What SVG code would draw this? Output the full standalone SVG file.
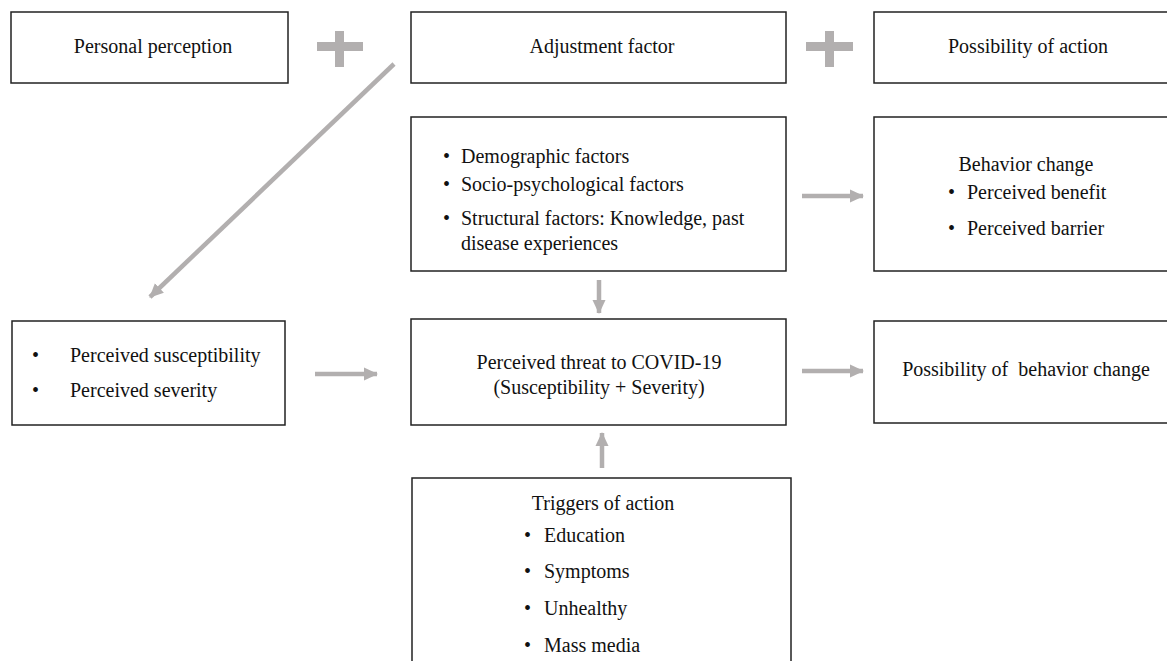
<svg xmlns="http://www.w3.org/2000/svg" width="1167" height="661" viewBox="0 0 1167 661">
<style>
.box{fill:#fff;stroke:#222;stroke-width:1.5}
text{font-family:"Liberation Serif","Times New Roman",serif;font-size:20px;fill:#111}
.c{text-anchor:middle}
.pre{white-space:pre}
.conn{stroke:#b2afaf;stroke-width:4.5;fill:none}
.plus{fill:#b2afaf}
</style>
<defs>
<marker id="ah" markerUnits="userSpaceOnUse" markerWidth="16" markerHeight="16" viewBox="0 0 16 16" refX="13" refY="8" orient="auto">
<polygon points="0,1.5 14,8 0,14.5" fill="#b2afaf"/>
</marker>
</defs>
<rect width="1167" height="661" fill="#fff"/>
<g id="personal-perception"><rect class="box" x="11" y="12" width="277" height="71"/><text class="c" x="153" y="53">Personal perception</text></g>
<g id="adjustment-factor"><rect class="box" x="411" y="12" width="375" height="71"/><text class="c" x="602" y="53">Adjustment factor</text></g>
<g id="possibility-of-action"><rect class="box" x="874" y="12" width="320" height="71"/><text class="c" x="1028" y="53">Possibility of action</text></g>
<g id="plus1"><rect class="plus" x="317" y="42" width="46" height="9"/><rect class="plus" x="335" y="31" width="9" height="36"/></g>
<g id="plus2"><rect class="plus" x="806" y="42" width="47" height="9"/><rect class="plus" x="825" y="31" width="9" height="36"/></g>
<g id="modifying-factors"><rect class="box" x="411" y="117" width="375" height="154"/>
<text x="443" y="163">•</text><text x="461" y="163">Demographic factors</text>
<text x="443" y="191">•</text><text x="461" y="191">Socio-psychological factors</text>
<text x="443" y="225">•</text><text x="461" y="225">Structural factors: Knowledge, past</text>
<text x="461" y="250">disease experiences</text></g>
<g id="behavior-change"><rect class="box" x="874" y="117" width="320" height="154"/>
<text class="c" x="1026" y="171">Behavior change</text>
<text x="948" y="199">•</text><text x="967" y="199">Perceived benefit</text>
<text x="948" y="235">•</text><text x="967" y="235">Perceived barrier</text></g>
<g id="perception-list"><rect class="box" x="12" y="321" width="273" height="104"/>
<text x="32" y="362">•</text><text x="70" y="362">Perceived susceptibility</text>
<text x="32" y="397">•</text><text x="70" y="397">Perceived severity</text></g>
<g id="perceived-threat"><rect class="box" x="411" y="319" width="375" height="106"/>
<text class="c" x="599" y="369">Perceived threat to COVID-19</text>
<text class="c" x="599" y="394">(Susceptibility + Severity)</text></g>
<g id="possibility-behavior-change"><rect class="box" x="874" y="321" width="320" height="102"/>
<text class="c pre" x="1026" y="376">Possibility of  behavior change</text></g>
<g id="triggers"><rect class="box" x="412" y="478" width="379" height="220"/>
<text class="c" x="603" y="510">Triggers of action</text>
<text x="524" y="542">•</text><text x="544" y="542">Education</text>
<text x="524" y="578">•</text><text x="544" y="578">Symptoms</text>
<text x="524" y="615">•</text><text x="544" y="615">Unhealthy</text>
<text x="524" y="652">•</text><text x="544" y="652">Mass media</text></g>
<g id="connectors">
<line class="conn" x1="394" y1="64" x2="150" y2="297" marker-end="url(#ah)"/>
<line class="conn" x1="802" y1="196" x2="863" y2="196" marker-end="url(#ah)"/>
<line class="conn" x1="599" y1="280" x2="599" y2="313" marker-end="url(#ah)"/>
<line class="conn" x1="315" y1="374" x2="377" y2="374" marker-end="url(#ah)"/>
<line class="conn" x1="802" y1="371" x2="863" y2="371" marker-end="url(#ah)"/>
<line class="conn" x1="602" y1="468" x2="602" y2="433" marker-end="url(#ah)"/>
</g>
</svg>
